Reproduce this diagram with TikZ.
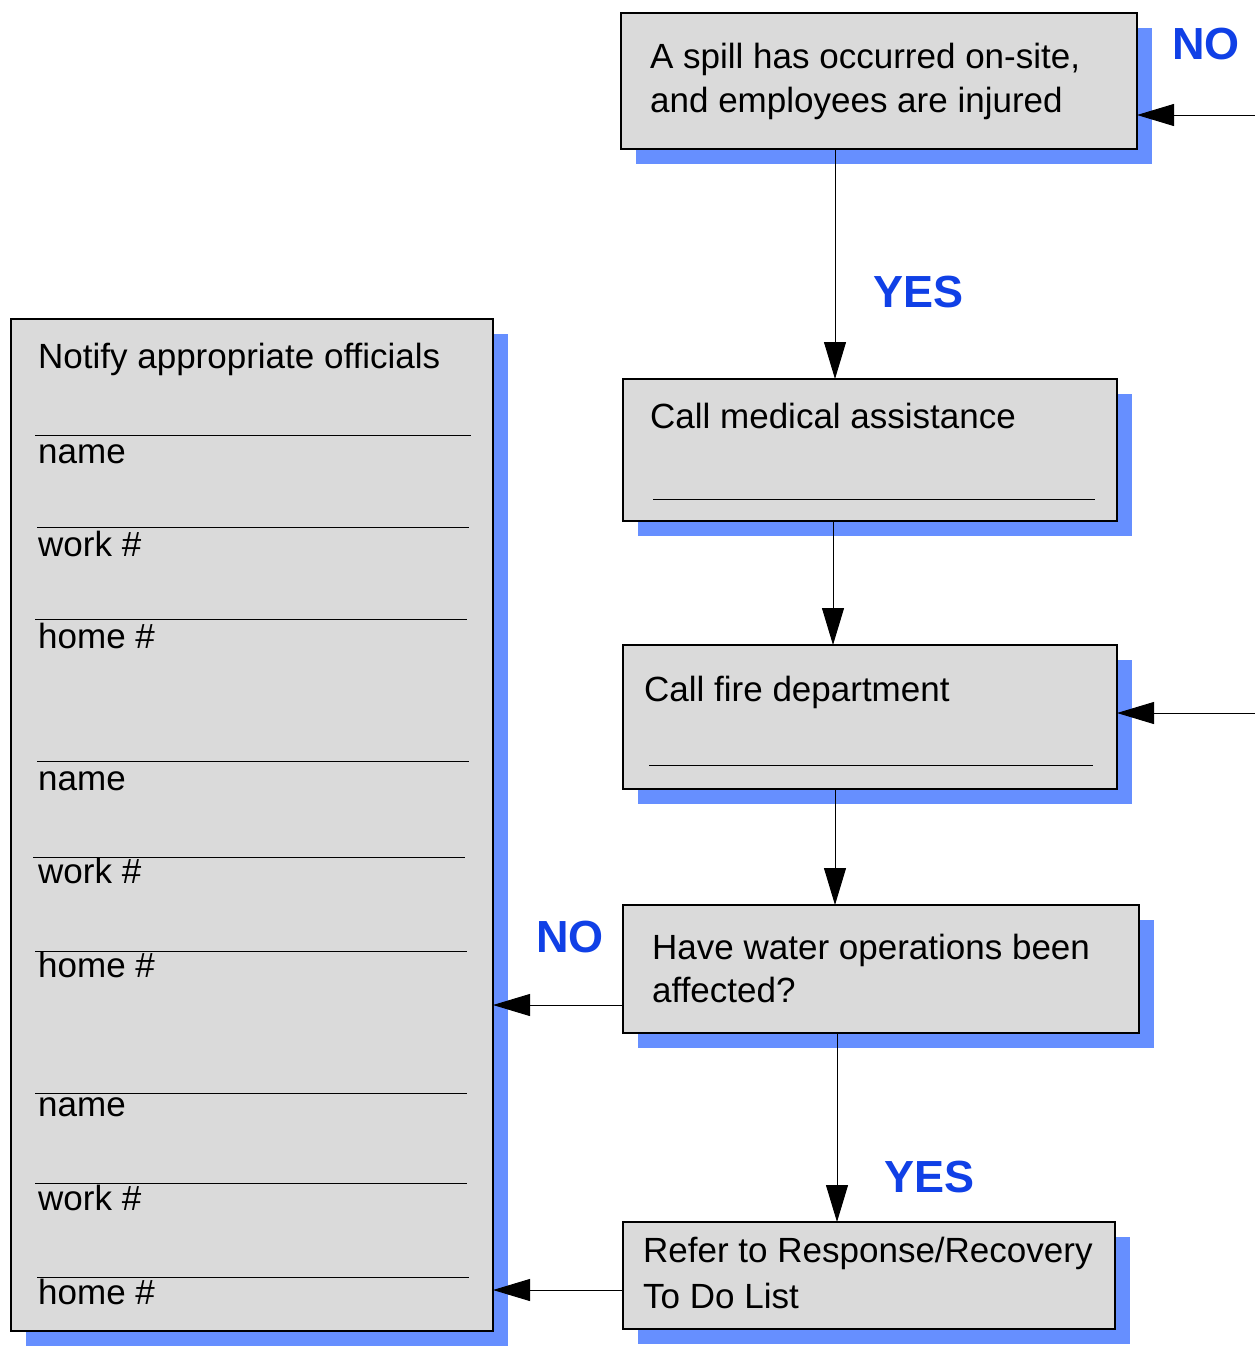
\documentclass[tikz,border=0pt]{standalone}
\usepackage{fontspec}
\setmainfont{Liberation Sans}
\usetikzlibrary{arrows.meta,shadows}
\definecolor{boxgray}{RGB}{218,218,218}
\definecolor{shadowblue}{RGB}{102,143,255}
\definecolor{labelblue}{RGB}{16,64,230}
\begin{document}
\begin{tikzpicture}[x=1pt,y=-1pt,
  box/.style={draw=black, line width=2pt, fill=boxgray, rectangle, inner sep=0pt, outer sep=0pt,
    anchor=north west,
    drop shadow={shadow xshift=15pt, shadow yshift=-15pt, fill=shadowblue, opacity=1, draw=none}},
  txt/.style={anchor=base west, inner sep=0pt, font=\fontsize{35}{42}\selectfont},
  lbl/.style={anchor=base west, inner sep=0pt, text=labelblue, font=\fontsize{45}{54}\selectfont\bfseries},
  arr/.style={line width=1pt, -{Triangle[length=37pt,width=22pt]}},
  rule/.style={line width=1pt}]
\useasboundingbox (0,0) rectangle (1255,1347);

% boxes
\node[box, minimum width=516pt, minimum height=136pt] (b1) at (621,13) {};
\node[box, minimum width=494pt, minimum height=142pt] (b2) at (623,379) {};
\node[box, minimum width=494pt, minimum height=144pt] (b3) at (623,645) {};
\node[box, minimum width=516pt, minimum height=128pt] (b4) at (623,905) {};
\node[box, minimum width=492pt, minimum height=107pt] (b5) at (623,1222) {};
\node[box, minimum width=482pt, minimum height=1012pt] (L) at (11,319) {};

% box texts
\node[txt] (t1a) at (650,68) {A spill has occurred on-site,};
\node[txt] (t1b) at (650,112) {and employees are injured};
\node[txt] (t2) at (650,428) {Call medical assistance};
\draw[rule] (653,499) -- (1095,499);
\node[txt] (t3) at (644,701) {Call fire department};
\draw[rule] (649,765) -- (1093,765);
\node[txt] (t4a) at (652,959) {Have water operations been};
\node[txt] (t4b) at (652,1002) {affected?};
\node[txt] (t5a) at (643,1262) {Refer to Response/Recovery};
\node[txt] (t5b) at (643,1308) {To Do List};

% left box
\node[txt] (tL) at (38,368) {Notify appropriate officials};
\draw[rule] (35,435) -- (471,435);
\node[txt] (n1) at (38,463) {name};
\draw[rule] (37,527) -- (469,527);
\node[txt] (w1) at (38,556) {work \#};
\draw[rule] (35,619) -- (467,619);
\node[txt] (h1) at (38,648) {home \#};
\draw[rule] (37,761) -- (469,761);
\node[txt] (n2) at (38,790) {name};
\draw[rule] (33,857) -- (465,857);
\node[txt] (w2) at (38,883) {work \#};
\draw[rule] (35,951) -- (467,951);
\node[txt] (h2) at (38,977) {home \#};
\draw[rule] (35,1093) -- (467,1093);
\node[txt] (n3) at (38,1116) {name};
\draw[rule] (35,1183) -- (467,1183);
\node[txt] (w3) at (38,1210) {work \#};
\draw[rule] (37,1277) -- (469,1277);
\node[txt] (h3) at (38,1304) {home \#};

% labels
\node[lbl] (no1) at (1172,59) {NO};
\node[lbl] (yes1) at (873,307) {YES};
\node[lbl] (no2) at (536,952) {NO};
\node[lbl] (yes2) at (884,1192) {YES};

% connectors
\coordinate (c1) at (1255,115);
\draw[arr] (c1) -- (c1 -| b1.east);
\coordinate (v1) at (835,0);
\draw[arr] (b1.south -| v1) -- (b2.north -| v1);
\coordinate (v2) at (833,0);
\draw[arr] (b2.south -| v2) -- (b3.north -| v2);
\coordinate (c3) at (1255,713);
\draw[arr] (c3) -- (c3 -| b3.east);
\coordinate (v3) at (835,0);
\draw[arr] (b3.south -| v3) -- (b4.north -| v3);
\coordinate (h4) at (0,1005);
\draw[arr] (b4.west |- h4) -- (L.east |- h4);
\coordinate (v4) at (837,0);
\draw[arr] (b4.south -| v4) -- (b5.north -| v4);
\coordinate (h5) at (0,1290);
\draw[arr] (b5.west |- h5) -- (L.east |- h5);
\end{tikzpicture}
\end{document}
